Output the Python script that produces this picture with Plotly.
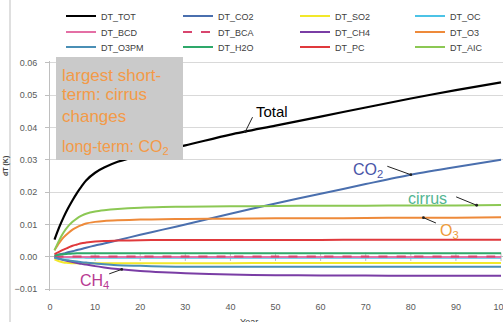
import plotly.graph_objects as go
import numpy as np

W, H = 503, 322

years = [1, 2, 3, 4, 5, 6, 7, 8, 10, 12, 15, 20, 25, 30, 40, 50, 60, 70, 80, 90, 100]

dt_tot = [0.0053, 0.0090, 0.0122, 0.0150, 0.0175, 0.0198, 0.0218, 0.0236, 0.0260, 0.0276, 0.0294, 0.0314, 0.0330, 0.0345, 0.0378, 0.0406, 0.0434, 0.0462, 0.0490, 0.0516, 0.0540]
dt_co2 = [0.0003, 0.0007, 0.0010, 0.0014, 0.0017, 0.0021, 0.0024, 0.0028, 0.0035, 0.0041, 0.0051, 0.0068, 0.0084, 0.0100, 0.0133, 0.0165, 0.0195, 0.0225, 0.0254, 0.0278, 0.0300]
dt_so2 = [-0.0008, -0.0014, -0.0018, -0.0019, -0.0020, -0.0020, -0.0020, -0.0020, -0.0020, -0.0020, -0.0020, -0.0020, -0.0020, -0.0020, -0.0020, -0.0019, -0.0019, -0.0019, -0.0019, -0.0019, -0.0019]
dt_oc = [-0.0001, -0.0001, -0.0002, -0.0002, -0.0002, -0.0002, -0.0002, -0.0003, -0.0003, -0.0003, -0.0003, -0.0003, -0.0003, -0.0003, -0.0003, -0.0003, -0.0003, -0.0003, -0.0003, -0.0003, -0.0003]
dt_bcd = [0.0000, -0.0001, -0.0001, -0.0001, -0.0001, -0.0001, -0.0001, -0.0001, -0.0001, -0.0001, -0.0001, -0.0001, -0.0001, -0.0001, -0.0001, -0.0001, -0.0001, -0.0001, -0.0001, -0.0001, -0.0001]
dt_bca = [0.0000, 0.0000, 0.0001, 0.0001, 0.0001, 0.0001, 0.0001, 0.0001, 0.0001, 0.0001, 0.0001, 0.0001, 0.0001, 0.0001, 0.0001, 0.0001, 0.0001, 0.0001, 0.0001, 0.0001, 0.0001]
dt_ch4 = [-0.0003, -0.0006, -0.0010, -0.0013, -0.0016, -0.0019, -0.0022, -0.0024, -0.0029, -0.0033, -0.0038, -0.0044, -0.0048, -0.0051, -0.0055, -0.0057, -0.0058, -0.0058, -0.0059, -0.0059, -0.0059]
dt_o3 = [0.0020, 0.0042, 0.0060, 0.0073, 0.0084, 0.0092, 0.0098, 0.0103, 0.0108, 0.0111, 0.0113, 0.0115, 0.0116, 0.0117, 0.0118, 0.0119, 0.0119, 0.0120, 0.0121, 0.0121, 0.0122]
dt_o3pm = [-0.0003, -0.0006, -0.0009, -0.0011, -0.0013, -0.0015, -0.0017, -0.0018, -0.0021, -0.0023, -0.0026, -0.0028, -0.0030, -0.0031, -0.0031, -0.0031, -0.0031, -0.0031, -0.0031, -0.0031, -0.0031]
dt_h2o = [0.0003, 0.0006, 0.0008, 0.0009, 0.0010, 0.0011, 0.0011, 0.0011, 0.0011, 0.0011, 0.0011, 0.0011, 0.0011, 0.0011, 0.0011, 0.0011, 0.0011, 0.0011, 0.0011, 0.0011, 0.0011]
dt_pc = [0.0008, 0.0015, 0.0022, 0.0028, 0.0034, 0.0038, 0.0042, 0.0044, 0.0047, 0.0049, 0.0050, 0.0051, 0.0052, 0.0052, 0.0052, 0.0052, 0.0052, 0.0053, 0.0053, 0.0053, 0.0053]
dt_aic = [0.0020, 0.0050, 0.0075, 0.0094, 0.0108, 0.0119, 0.0127, 0.0133, 0.0140, 0.0144, 0.0148, 0.0152, 0.0154, 0.0155, 0.0156, 0.0157, 0.0158, 0.0158, 0.0159, 0.0159, 0.0160]

series_names = ["DT_TOT", "DT_CO2", "DT_SO2", "DT_OC", "DT_BCD", "DT_BCA",
                "DT_CH4", "DT_O3", "DT_O3PM", "DT_H2O", "DT_PC", "DT_AIC"]
series_values = [dt_tot, dt_co2, dt_so2, dt_oc, dt_bcd, dt_bca,
                 dt_ch4, dt_o3, dt_o3pm, dt_h2o, dt_pc, dt_aic]
series_colors = ["#000000", "#4A6FAE", "#F2E82A", "#4CC3E6", "#E46FA5", "#D8456E",
                 "#7A3DA5", "#EE8A3A", "#4A8FB5", "#2EA86A", "#E0393C", "#8CC854"]
series_dash = ["solid"] * 5 + ["dash"] + ["solid"] * 6

x_ticks = [0, 10, 20, 30, 40, 50, 60, 70, 80, 90, 100]
y_ticks = [-0.01, 0.00, 0.01, 0.02, 0.03, 0.04, 0.05, 0.06]

FONT = "Liberation Sans, Arial, sans-serif"

fig = go.Figure()

# small tick marks on the horizontal axis at y=0 (drawn first, under the lines)
fig.add_trace(go.Scatter(
    x=x_ticks[1:], y=[0] * (len(x_ticks) - 1), mode="markers", showlegend=False,
    marker=dict(symbol="line-ns-open", size=6, color="#BFBFBF", line=dict(color="#BFBFBF", width=1)),
    hoverinfo="skip",
))

legend_ids = ["legend", "legend2", "legend3"]
col_widths = [72, 72, 70, 40]
for i, (nm, vals, col, dash) in enumerate(zip(series_names, series_values, series_colors, series_dash)):
    fig.add_trace(go.Scatter(
        x=years, y=vals, name=nm, mode="lines",
        line=dict(color=col, width=2.2 if i == 0 else 2, dash=dash, shape="spline", smoothing=0.8),
        legend=legend_ids[i // 4],
        legendwidth=col_widths[i % 4],
    ))

plot_top, plot_bot = 61, 291

def py(px):
    return 1 - px / H

def pxx(px):
    return px / W

legend_rows = [16, 32, 47]
leg_common = dict(orientation="h", x=pxx(61), xanchor="left", yanchor="middle",
                  entrywidth=72, entrywidthmode="pixels", itemwidth=30,
                  font=dict(family=FONT, size=9, color="#404040"),
                  bgcolor="rgba(0,0,0,0)", borderwidth=0)

layout = dict(
    width=W, height=H,
    margin=dict(l=0, r=0, t=0, b=0),
    paper_bgcolor="white", plot_bgcolor="white",
    font=dict(family=FONT, size=9, color="#595959"),
    xaxis=dict(domain=[pxx(50), 1], range=[0, 100.44], tickvals=x_ticks, automargin=False,
               showgrid=False, zeroline=False, showline=False, ticks="",
               ticklabeloverflow="allow",
               tickfont=dict(size=9, color="#595959"), ticklabelstandoff=9),
    yaxis=dict(domain=[py(plot_bot), py(plot_top)], range=[-0.0106, 0.0606], automargin=False,
               tickvals=y_ticks, tickformat=".2f", showgrid=True, gridcolor="#D9D9D9",
               gridwidth=1, zeroline=True, zerolinecolor="#BFBFBF", zerolinewidth=1,
               showline=True, linecolor="#BFBFBF", ticks="outside", ticklen=4,
               tickcolor="#BFBFBF", tickfont=dict(size=9, color="#595959"),
               ticklabelstandoff=6, ticklabeloverflow="allow"),
    showlegend=True,
)
for lid, row in zip(legend_ids, legend_rows):
    layout[lid] = dict(leg_common, y=py(row))
fig.update_layout(**layout)

# grey text box (covers lines beneath)
fig.add_shape(type="rect", xref="paper", yref="paper",
              x0=pxx(56), x1=pxx(183), y0=py(160), y1=py(57),
              fillcolor="#CACACA", line=dict(width=0), layer="above")
# left frame line
fig.add_shape(type="line", xref="paper", yref="paper",
              x0=pxx(10), x1=pxx(10), y0=0, y1=1,
              line=dict(color="#BFBFBF", width=1), layer="above")

orange = "#F39A48"
box_lines = [("largest short-", 75, 17), ("term: cirrus", 95, 17), ("changes", 116, 17),
             ("long-term: CO<sub>2</sub>", 147, 16)]
for txt, yy, fs in box_lines:
    fig.add_annotation(text=txt, xref="paper", yref="paper", x=pxx(61), y=py(yy),
                       xanchor="left", yanchor="middle", showarrow=False, borderpad=0,
                       font=dict(family=FONT, size=fs, color=orange))

# curve labels
labels = [("Total", 272, 111, "#000000", 15),
          ("CO<sub>2</sub>", 368, 170, "#4A55A8", 16),
          ("cirrus", 427, 198, "#52B592", 16),
          ("O<sub>3</sub>", 449, 231, "#EE9A3A", 16),
          ("CH<sub>4</sub>", 94, 281, "#B83A92", 16)]
for txt, x, y, c, fs in labels:
    fig.add_annotation(text=txt, xref="paper", yref="paper", x=pxx(x), y=py(y),
                       xanchor="center", yanchor="middle", showarrow=False,
                       font=dict(family=FONT, size=fs, color=c))

# pointer arrows: (year, series, tail pixel offset)
arrows = [(43.3, dt_tot, 8, -16), (80, dt_co2, -25, -9), (94.6, dt_aic, -22, -9),
          (82.8, dt_o3, 14, 6), (15.9, dt_ch4, -14, 5)]
for yr, ser, ax, ay in arrows:
    yv = float(np.interp(yr, years, ser))
    fig.add_annotation(x=yr, y=yv, xref="x", yref="y", text="", showarrow=True,
                       ax=ax, ay=ay, axref="pixel", ayref="pixel",
                       arrowhead=6, arrowsize=0.7, arrowwidth=1, arrowcolor="#222222")

fig.add_annotation(text="Year", xref="paper", yref="paper", x=pxx(249), y=py(315),
                   xanchor="center", yanchor="top", showarrow=False,
                   font=dict(family=FONT, size=9, color="#404040"))
fig.add_annotation(text="<b>dT (K)</b>", xref="paper", yref="paper", x=pxx(6), y=py(166),
                   xanchor="center", yanchor="middle", showarrow=False, textangle=-90,
                   font=dict(family=FONT, size=7, color="#404040"))

fig.write_html("out.html", config={"displayModeBar": False},
               post_script="document.body.style.margin='0';document.body.style.overflow='hidden';")
